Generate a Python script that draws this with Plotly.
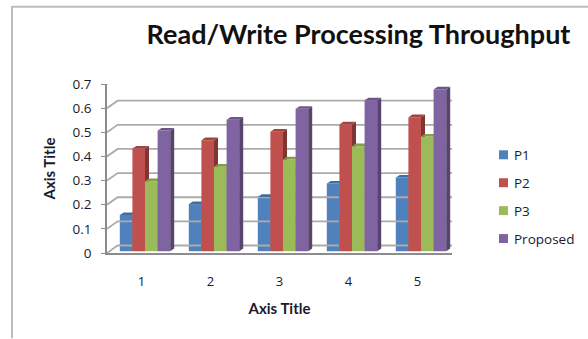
import plotly.graph_objects as go

categories = [1, 2, 3, 4, 5]
series_names = ["P1", "P2", "P3", "Proposed"]
p1 = [0.15, 0.195, 0.225, 0.28, 0.305]
p2 = [0.425, 0.46, 0.495, 0.525, 0.555]
p3 = [0.29, 0.35, 0.38, 0.435, 0.475]
proposed = [0.5, 0.545, 0.59, 0.625, 0.67]
y_ticks = [0, 0.1, 0.2, 0.3, 0.4, 0.5, 0.6, 0.7]

values = [p1, p2, p3, proposed]
front = ["#4F81BD", "#C0504D", "#9BBB59", "#8064A2"]
side = ["#35577F", "#7F3532", "#67803A", "#574570"]
top = ["#426D9F", "#A34441", "#839E4B", "#6C5589"]

FONT = "Lato, 'Open Sans', sans-serif"
LABEL_FONT = "'Open Sans', sans-serif"
W, H = 588, 339
L, R, T, B = 107, 452, 84, 253.5
px_x = 5 / (R - L)      # data units per pixel, horizontal
px_y = 0.7 / (B - T)    # data units per pixel, vertical

wall_dx, wall_dy = 10.6 * px_x, 7.5 * px_y
bar_dx, bar_base = 3.5 * px_x, 1.8 * px_y
depth_dx, depth_dy = 4 * px_x, 2.6 * px_y
bar_w = 12.6 * px_x


def paper_x(px):
    return (px - L) / (R - L)


def paper_y(px):
    return (B - px) / (B - T)


fig = go.Figure()


def axis_names(i):
    return ("x", "y") if i == 0 else (f"x{i + 1}", f"y{i + 1}")


# Back wall: gridlines with the short diagonals running to the front axis
wall_x, wall_y = [], []
for t in y_ticks:
    wall_x += [0.5, 0.5 + wall_dx, 5.5 + wall_dx, None]
    wall_y += [t, t + wall_dy, t + wall_dy, None]
wall_x += [5.5, 5.5 + wall_dx, None]
wall_y += [0, wall_dy, None]
fig.add_trace(go.Scatter(
    x=wall_x, y=wall_y, mode="lines", cliponaxis=False, showlegend=False,
    hoverinfo="skip", line=dict(color="#ABABAB", width=1.8),
))

# One overlaid axis pair per series so each series' front faces cover
# the side faces of the series before it
for i, vals in enumerate(values):
    xa, ya = axis_names(i)
    offset = bar_dx - 2 * bar_w + i * bar_w
    side_x, side_y, top_x, top_y = [], [], [], []
    for c, v in zip(categories, vals):
        x1 = c + offset + bar_w
        x0 = c + offset
        h = bar_base + v
        side_x += [x1, x1 + depth_dx, x1 + depth_dx, x1, x1, None]
        side_y += [bar_base, bar_base + depth_dy, h + depth_dy, h, bar_base, None]
        top_x += [x0, x0 + depth_dx, x1 + depth_dx, x1, x0, None]
        top_y += [h, h + depth_dy, h + depth_dy, h, h, None]
    fig.add_trace(go.Bar(
        x=categories, y=vals, base=bar_base, offset=offset, width=bar_w,
        name=series_names[i], marker=dict(color=front[i], line=dict(width=0)),
        xaxis=xa, yaxis=ya, showlegend=False,
    ))
    for fx, fy, col in ((side_x, side_y, side[i]), (top_x, top_y, top[i])):
        fig.add_trace(go.Scatter(
            x=fx, y=fy, mode="lines", fill="toself", fillcolor=col,
            line=dict(width=0), xaxis=xa, yaxis=ya, showlegend=False,
            hoverinfo="skip", cliponaxis=False,
        ))

layout = dict(
    width=W, height=H, autosize=False,
    margin=dict(l=L, r=W - R, t=T, b=H - B, pad=0),
    paper_bgcolor="white", plot_bgcolor="rgba(0,0,0,0)",
    barmode="overlay", showlegend=False,
    font=dict(family=LABEL_FONT, size=13, color="#1a1a2a"),
    title=dict(
        text="<b>Read/Write Processing Throughput</b>",
        x=paper_x(358.5), xanchor="center", xref="paper", y=1 - 35 / H, yanchor="middle",
        yref="container", font=dict(family=FONT, size=27, color="#111111"),
    ),
    xaxis=dict(
        range=[0.5, 5.5], tickvals=categories, ticks="", showgrid=False, zeroline=False,
        showline=True, linecolor="#8C8C8C", linewidth=1.8,
        tickfont=dict(size=13), ticklabelstandoff=15,
        title=dict(text="<b>Axis Title</b>", font=dict(family=FONT, size=15), standoff=15),
    ),
    yaxis=dict(
        range=[0, 0.7], tickvals=y_ticks,
        ticktext=["0", "0.1", "0.2", "0.3", "0.4", "0.5", "0.6", "0.7"],
        ticks="outside", ticklen=4, tickcolor="#8C8C8C", showgrid=False, zeroline=False,
        showline=True, linecolor="#8C8C8C", linewidth=1.8,
        tickfont=dict(size=13.5), ticklabelstandoff=7,
        title=dict(text="<b>Axis Title</b>", font=dict(family=FONT, size=15), standoff=13),
    ),
)
for i in range(1, 4):
    layout[f"xaxis{i + 1}"] = dict(range=[0.5, 5.5], overlaying="x", visible=False)
    layout[f"yaxis{i + 1}"] = dict(range=[0, 0.7], overlaying="y", visible=False)
fig.update_layout(**layout)

# Frame edges along the top and left of the page
edge = dict(color="#BDBDBD", width=2)
fig.add_shape(type="line", xref="paper", yref="paper",
              x0=paper_x(12), x1=paper_x(12), y0=paper_y(339), y1=paper_y(6.5), line=edge)
fig.add_shape(type="line", xref="paper", yref="paper",
              x0=paper_x(11), x1=paper_x(588), y0=paper_y(6.5), y1=paper_y(6.5), line=edge)

# Key at the right of the plot
for i, name in enumerate(series_names):
    yc = 155 + i * 28
    fig.add_shape(type="rect", xref="paper", yref="paper",
                  x0=paper_x(499), x1=paper_x(508),
                  y0=paper_y(yc + 4.5), y1=paper_y(yc - 4.5),
                  fillcolor=front[i], line=dict(width=0))
    fig.add_annotation(xref="paper", yref="paper", x=paper_x(512), y=paper_y(yc),
                       text=name, showarrow=False, xanchor="left", yanchor="middle",
                       font=dict(size=13.5))

fig.write_html("out.html")
